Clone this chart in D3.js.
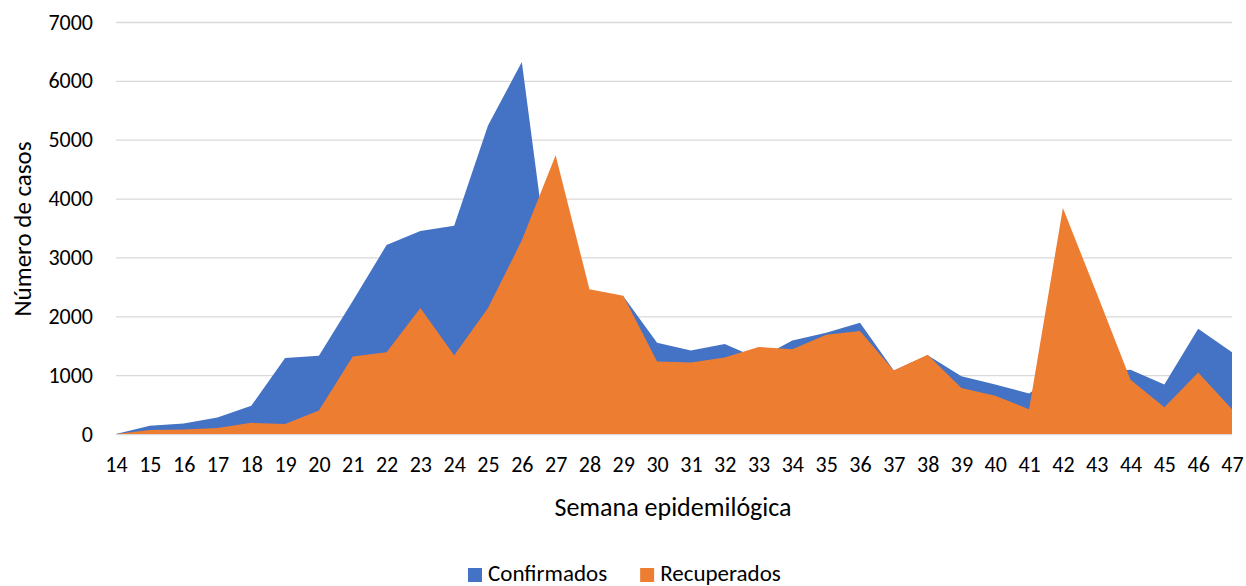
<!DOCTYPE html>
<meta charset="utf-8">
<style>
  body { margin: 0; background: #fff; }
  text { font-family: Carlito, "Open Sans", sans-serif; fill: #000; }
</style>
<svg width="1246" height="586"></svg>
<script src="https://cdn.jsdelivr.net/npm/d3@7"></script>
<script>

// weeks and series
var semanas = [14,15,16,17,18,19,20,21,22,23,24,25,26,27,28,29,30,31,32,33,34,35,36,37,38,39,40,41,42,43,44,45,46,47];
var confirmados = [0,140,180,280,480,1290,1330,2260,3210,3450,3540,5240,6320,1950,2300,2340,1550,1420,1530,1280,1590,1720,1890,1080,1340,980,840,690,1100,1050,1090,840,1790,1390];
var recuperados = [0,70,75,100,190,170,400,1315,1390,2140,1340,2140,3290,4735,2460,2350,1230,1215,1300,1480,1440,1685,1750,1080,1345,780,650,420,3840,2390,920,455,1045,420];
var yTicks = [0,1000,2000,3000,4000,5000,6000,7000];

var series = [
  {name: "Confirmados", values: confirmados, color: "#4472C4"},
  {name: "Recuperados", values: recuperados, color: "#ED7D31"}
];

var svg = d3.select("svg"),
    margin = {top: 22, right: 14, bottom: 152, left: 116},
    width = +svg.attr("width") - margin.left - margin.right,
    height = +svg.attr("height") - margin.top - margin.bottom;

var g = svg.append("g").attr("transform", "translate(" + margin.left + "," + margin.top + ")");

var x = d3.scalePoint().domain(semanas).range([0, width]);
var y = d3.scaleLinear().domain([0, 7000]).range([height, 0]);

// gridlines
g.append("g")
    .attr("class", "grid")
    .call(d3.axisLeft(y).tickValues(yTicks).tickSize(-width).tickFormat(""))
    .call(function(s) { s.select(".domain").remove(); })
    .selectAll("line")
    .attr("stroke", "#D9D9D9")
    .attr("stroke-width", 1.3);

// areas, blue first so orange lies on top
var area = d3.area()
    .x(function(d, i) { return x(semanas[i]); })
    .y0(height)
    .y1(function(d) { return y(d); });

series.forEach(function(s) {
  g.append("path")
      .attr("d", area(s.values))
      .attr("fill", s.color);
});

// y axis labels
var yAxis = g.append("g")
    .call(d3.axisLeft(y).tickValues(yTicks).tickSize(0).tickPadding(23).tickFormat(d3.format("d")));
yAxis.select(".domain").remove();
yAxis.selectAll("text").style("font-size", "22px").style("font-family", null);

// x axis labels
var xAxis = g.append("g")
    .attr("transform", "translate(0," + height + ")")
    .call(d3.axisBottom(x).tickSize(0).tickPadding(22));
xAxis.select(".domain").remove();
xAxis.selectAll("text").style("font-size", "22px").style("font-family", null);

// axis titles
svg.append("text")
    .attr("transform", "translate(31," + 229 + ") rotate(-90)")
    .attr("text-anchor", "middle")
    .style("font-size", "25px")
    .text("Número de casos");

svg.append("text")
    .attr("x", 673)
    .attr("y", 516)
    .attr("text-anchor", "middle")
    .style("font-size", "26px")
    .text("Semana epidemilógica");

// legend
var legend = svg.append("g").attr("transform", "translate(468,568)");
var lx = 0;
series.forEach(function(s) {
  var item = legend.append("g").attr("transform", "translate(" + lx + ",0)");
  item.append("rect").attr("width", 14).attr("height", 14).attr("fill", s.color);
  var t = item.append("text")
      .attr("x", 20)
      .attr("y", 13)
      .style("font-size", "23px")
      .text(s.name);
  lx += 20 + t.node().getComputedTextLength() + 33;
});

</script>
